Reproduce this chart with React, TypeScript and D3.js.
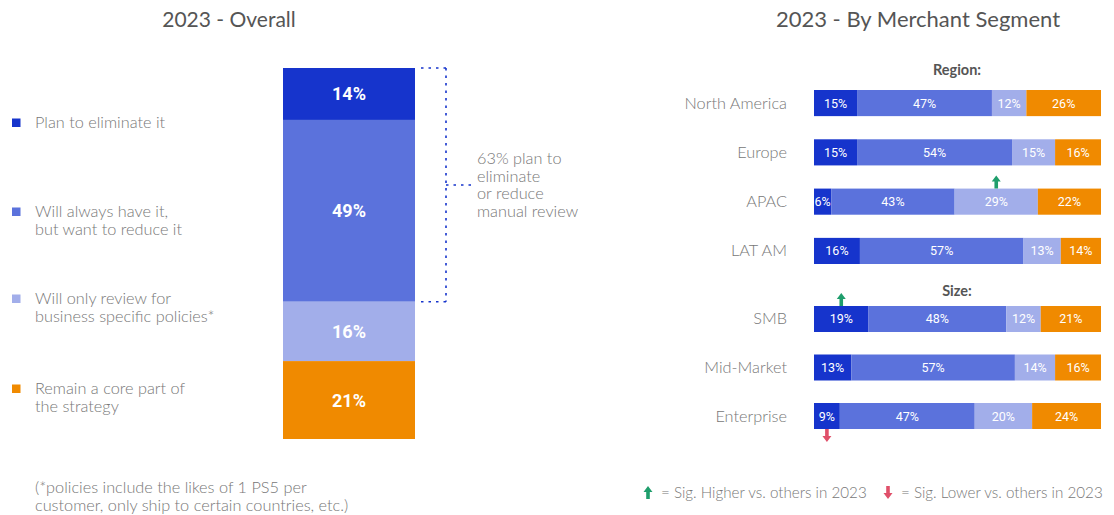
import React from 'react';
import * as d3 from 'd3';

// data
const categories = [
  'Plan to eliminate it',
  'Will always have it, but want to reduce it',
  'Will only review for business specific policies*',
  'Remain a core part of the strategy',
];
const legendLines = [
  ['Plan to eliminate it'],
  ['Will always have it,', 'but want to reduce it'],
  ['Will only review for', 'business specific policies*'],
  ['Remain a core part of', 'the strategy'],
];
const overallValues = [14, 49, 16, 21];

const regionRows = ['North America', 'Europe', 'APAC', 'LAT AM'];
const regionValues = [
  [15, 47, 12, 26],
  [15, 54, 15, 16],
  [6, 43, 29, 22],
  [16, 57, 13, 14],
];
const sizeRows = ['SMB', 'Mid-Market', 'Enterprise'];
const sizeValues = [
  [19, 48, 12, 21],
  [13, 57, 14, 16],
  [9, 47, 20, 24],
];
const sigHigher = [
  { row: 'APAC', seg: 2 },
  { row: 'SMB', seg: 0 },
];
const sigLower = [{ row: 'Enterprise', seg: 0 }];

const bracketNote = ['63% plan to', 'eliminate', 'or reduce', 'manual review'];
const footnote = ['(*policies include the likes of 1 PS5 per', 'customer, only ship to certain countries, etc.)'];

const colors = ['#1634cc', '#5b72dc', '#a2aeea', '#f08a00'];
const GREEN = '#1f9e6c';
const RED = '#e0506a';
const LABEL_FONT = 'Lato, "Open Sans", sans-serif';
const NUM_FONT = 'Roboto, "Open Sans", sans-serif';
const TEXT_GRAY = '#777';
const LABEL_SIZE = 16.3;

const cumulate = (vals: number[]) => {
  let acc = 0;
  return vals.map(v => {
    const s = acc;
    acc += v;
    return [s, acc] as [number, number];
  });
};

const UpArrow: React.FC<{ x: number; y: number; color: string }> = ({ x, y, color }) => (
  // y = bottom of arrow
  <path d={`M${x - 1.8},${y} L${x - 1.8},${y - 7} L${x - 4.5},${y - 7} L${x},${y - 13} L${x + 4.5},${y - 7} L${x + 1.8},${y - 7} L${x + 1.8},${y} Z`} fill={color} />
);
const DownArrow: React.FC<{ x: number; y: number; color: string }> = ({ x, y, color }) => (
  // y = top of arrow
  <path d={`M${x - 1.8},${y} L${x - 1.8},${y + 7} L${x - 4.5},${y + 7} L${x},${y + 13} L${x + 4.5},${y + 7} L${x + 1.8},${y + 7} L${x + 1.8},${y} Z`} fill={color} />
);

const App: React.FC = () => {
  // left overall bar
  const yOverall = d3.scaleLinear().domain([0, 100]).range([68, 439]);
  const barX0 = 283;
  const barX1 = 415;
  const overallStack = cumulate(overallValues);

  // right segment bars
  const x = d3.scaleLinear().domain([0, 100]).range([814, 1101]);
  const yRegion = d3.scaleBand<string>().domain(regionRows).range([90, 264]).paddingInner(0.47);
  const ySize = d3.scaleBand<string>().domain(sizeRows).range([306, 429]).paddingInner(0.464);

  const groups = [
    { rows: regionRows, values: regionValues, y: yRegion, title: 'Region:', titleY: 75 },
    { rows: sizeRows, values: sizeValues, y: ySize, title: 'Size:', titleY: 296 },
  ];

  const findRow = (row: string) => {
    for (const g of groups) {
      const i = g.rows.indexOf(row);
      if (i >= 0) return { g, i };
    }
    return null;
  };

  const legendY = [123, 212, 299, 389];

  return (
    <svg width={1114} height={515} style={{ position: 'absolute', left: 0, top: 0, background: '#fff' }}>
      {/* titles */}
      <text x={229} y={27} textAnchor="middle" fontFamily={LABEL_FONT} fontSize={21} fontWeight={400} fill="#555">2023 - Overall</text>
      <text x={918} y={27} textAnchor="middle" fontFamily={LABEL_FONT} fontSize={22} fontWeight={400} fill="#555">2023 - By Merchant Segment</text>

      {/* left legend */}
      {legendLines.map((lines, i) => (
        <g key={categories[i]}>
          <rect x={12} y={legendY[i] - 4.5} width={8.5} height={8.5} fill={colors[i]} />
          {lines.map((l, j) => (
            <text key={j} x={35} y={legendY[i] + 5 + j * 17.5} fontFamily={LABEL_FONT} fontWeight={300} fontSize={LABEL_SIZE} fill={TEXT_GRAY}>{l}</text>
          ))}
        </g>
      ))}

      {/* overall stacked bar */}
      {overallStack.map(([a, b], i) => (
        <g key={i}>
          <rect x={barX0} y={yOverall(a)} width={barX1 - barX0} height={yOverall(b) - yOverall(a)} fill={colors[i]} />
          <text x={(barX0 + barX1) / 2} y={(yOverall(a) + yOverall(b)) / 2 + 6.5} textAnchor="middle" fontFamily={NUM_FONT} fontWeight={700} fontSize={18} fill="#fff">{overallValues[i]}%</text>
        </g>
      ))}

      {/* bracket */}
      <g stroke={colors[0]} strokeWidth={1.6} strokeDasharray="2.5 5" fill="none">
        <line x1={421} x2={446} y1={yOverall(0)} y2={yOverall(0)} />
        <line x1={421} x2={446} y1={yOverall(overallStack[1][1])} y2={yOverall(overallStack[1][1])} />
        <line x1={446} x2={446} y1={yOverall(0)} y2={yOverall(overallStack[1][1])} />
        <line x1={446} x2={474} y1={185} y2={185} />
      </g>
      {bracketNote.map((l, i) => (
        <text key={l} x={477} y={164 + i * 17.5} fontFamily={LABEL_FONT} fontWeight={300} fontSize={LABEL_SIZE} fill={TEXT_GRAY}>{l}</text>
      ))}

      {/* footnote */}
      {footnote.map((l, i) => (
        <text key={i} x={35} y={493 + i * 18} fontFamily={LABEL_FONT} fontWeight={300} fontSize={LABEL_SIZE} fill={TEXT_GRAY}>{l}</text>
      ))}

      {/* segment charts */}
      {groups.map(g => (
        <g key={g.title}>
          <text x={957} y={g.titleY} textAnchor="middle" fontFamily={LABEL_FONT} fontWeight={700} fontSize={14.5} fill="#555">{g.title}</text>
          {g.rows.map((row, ri) => {
            const y0 = g.y(row)!;
            const h = g.y.bandwidth();
            const stack = cumulate(g.values[ri]);
            return (
              <g key={row}>
                <text x={787} y={y0 + h / 2 + 5.5} textAnchor="end" fontFamily={LABEL_FONT} fontWeight={300} fontSize={LABEL_SIZE} fill={TEXT_GRAY}>{row}</text>
                {stack.map(([a, b], si) => (
                  <g key={si}>
                    <rect x={x(a)} y={y0} width={x(b) - x(a)} height={h} fill={colors[si]} />
                    <text x={(x(a) + x(b)) / 2} y={y0 + h / 2 + 4.5} textAnchor="middle" fontFamily={NUM_FONT} fontWeight={400} fontSize={12.5} fill="#fff">{g.values[ri][si]}%</text>
                  </g>
                ))}
              </g>
            );
          })}
        </g>
      ))}

      {/* significance arrows */}
      {sigHigher.map(s => {
        const f = findRow(s.row);
        if (!f) return null;
        const [a, b] = cumulate(f.g.values[f.i])[s.seg];
        return <UpArrow key={s.row} x={(x(a) + x(b)) / 2} y={f.g.y(s.row)!} color={GREEN} />;
      })}
      {sigLower.map(s => {
        const f = findRow(s.row);
        if (!f) return null;
        const [a, b] = cumulate(f.g.values[f.i])[s.seg];
        return <DownArrow key={s.row} x={(x(a) + x(b)) / 2} y={f.g.y(s.row)! + f.g.y.bandwidth()} color={RED} />;
      })}

      {/* bottom legend */}
      <UpArrow x={648} y={499} color={GREEN} />
      <text x={661} y={498} fontFamily={LABEL_FONT} fontWeight={300} fontSize={15.2} fill={TEXT_GRAY}>= Sig. Higher vs. others in 2023</text>
      <DownArrow x={888} y={486} color={RED} />
      <text x={901} y={498} fontFamily={LABEL_FONT} fontWeight={300} fontSize={15.2} fill={TEXT_GRAY}>= Sig. Lower vs. others in 2023</text>
    </svg>
  );
};

export default App;
